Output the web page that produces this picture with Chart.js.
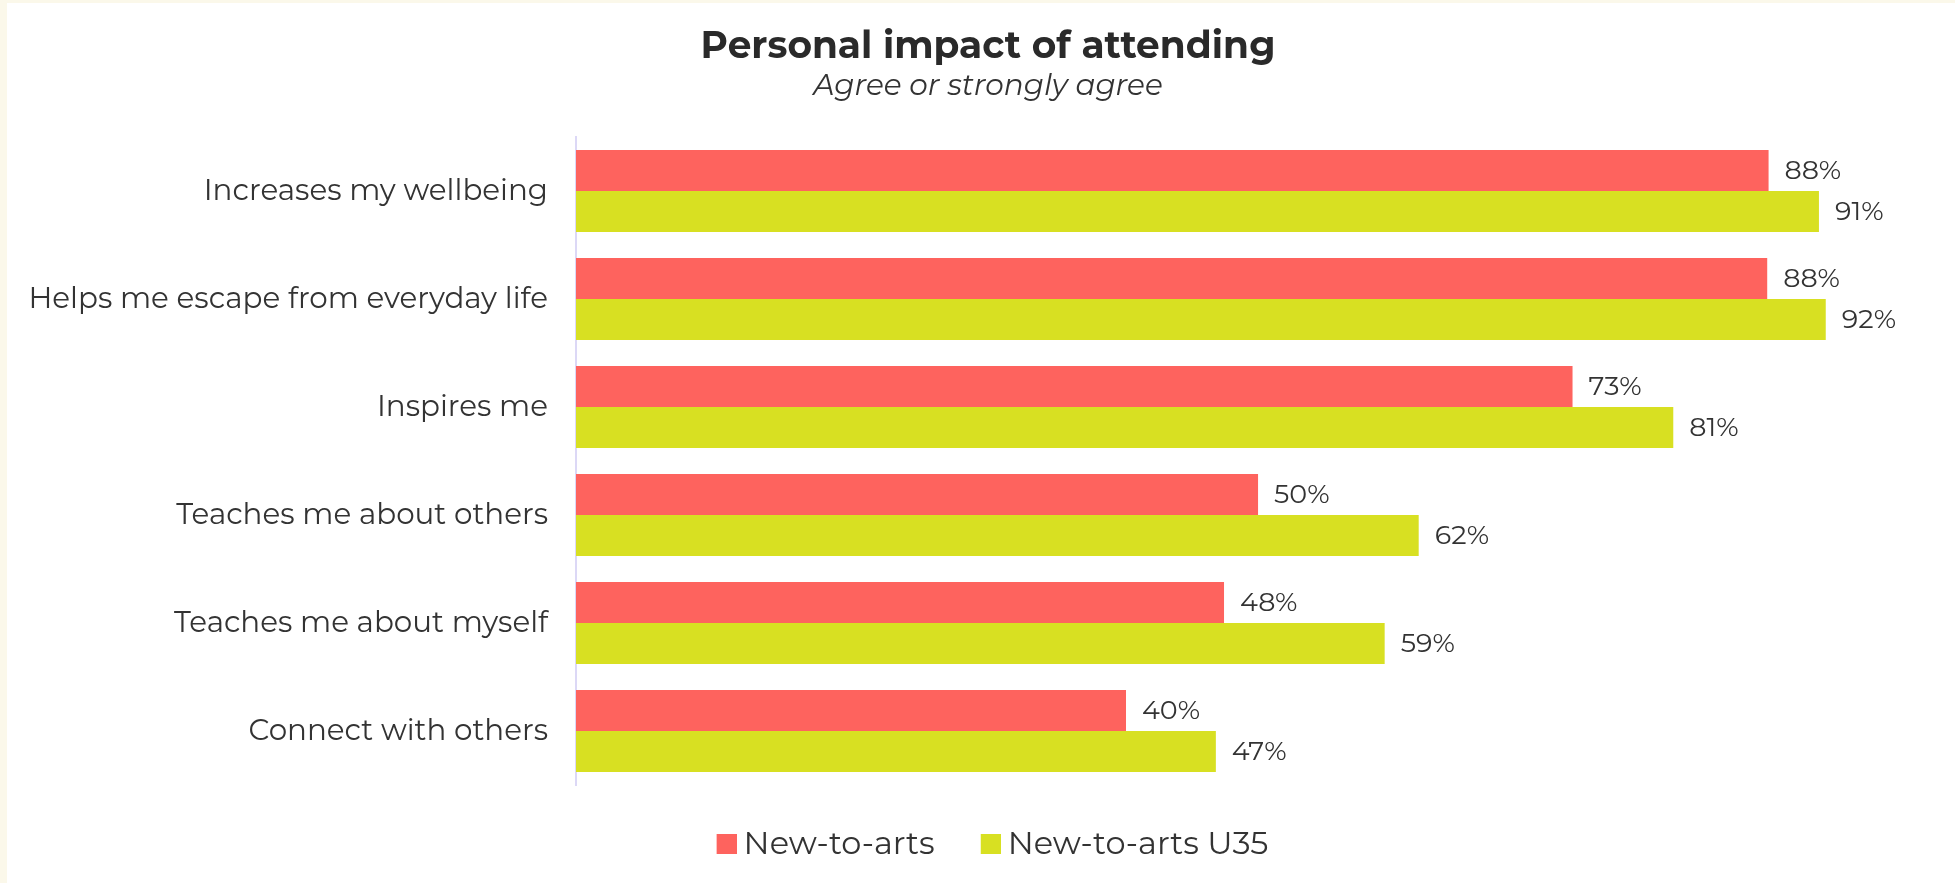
<!DOCTYPE html>
<html>
<head>
<meta charset="utf-8">
<script src="https://cdn.jsdelivr.net/npm/chart.js@4"></script>
<style>
  html, body { margin: 0; padding: 0; background: #fbf8ea; width: 1955px; height: 883px; overflow: hidden; }
  #wrap { position: absolute; left: 7px; top: 3px; width: 1948px; height: 880px; background: #ffffff; }
</style>
</head>
<body>
<div id="wrap"><canvas id="c" width="1948" height="880"></canvas></div>
<script>
const categories = [
  "Increases my wellbeing",
  "Helps me escape from everyday life",
  "Inspires me",
  "Teaches me about others",
  "Teaches me about myself",
  "Connect with others"
];
const newToArts = [87.6, 87.5, 73.2, 50.1, 47.6, 40.4];
const newToArtsU35 = [91.3, 91.8, 80.6, 61.9, 59.4, 47.0];
const seriesNames = ["New-to-arts", "New-to-arts U35"];
const seriesColors = ['#fe635e', '#d8e022'];
const titleText = "Personal impact of attending";
const subtitleText = "Agree or strongly agree";
const xMin = 0;
const xMax = 101;

const FONT = "'Montserrat', 'Lato', sans-serif";
const TEXT = "#333333";

// legend swatch: 20x20 square placed at the right part of a wider image,
// so the gap between swatch and text is small, like the original
function makeSwatch(color) {
  const c = document.createElement('canvas');
  c.width = 38; c.height = 20;
  const g = c.getContext('2d');
  g.fillStyle = color;
  g.fillRect(18, 0, 20, 20);
  return c;
}

const valueLabels = {
  id: 'valueLabels',
  afterDatasetsDraw(chart) {
    const ctx = chart.ctx;
    ctx.save();
    ctx.font = "400 27px " + FONT;
    ctx.fillStyle = TEXT;
    ctx.textAlign = 'left';
    ctx.textBaseline = 'middle';
    chart.data.datasets.forEach((ds, di) => {
      const meta = chart.getDatasetMeta(di);
      meta.data.forEach((bar, i) => {
        ctx.fillText(Math.round(ds.data[i]) + '%', bar.x + 16, bar.y + 1);
      });
    });
    ctx.restore();
  }
};

const PAD_LEFT = 18;

new Chart(document.getElementById('c'), {
  type: 'bar',
  data: {
    labels: categories,
    datasets: [
      { label: seriesNames[0], data: newToArts, backgroundColor: seriesColors[0], borderWidth: 0,
        categoryPercentage: 0.76, barPercentage: 1.0 },
      { label: seriesNames[1], data: newToArtsU35, backgroundColor: seriesColors[1], borderWidth: 0,
        categoryPercentage: 0.76, barPercentage: 1.0 }
    ]
  },
  options: {
    indexAxis: 'y',
    responsive: false,
    animation: false,
    layout: { padding: { left: PAD_LEFT, right: 4, top: 0, bottom: 12.8 } },
    scales: {
      x: { display: false, min: xMin, max: xMax },
      y: {
        grid: { display: false, drawTicks: false },
        border: { display: true, color: '#dcd8f6', width: 2 },
        ticks: { color: TEXT, padding: 28, font: { family: FONT, size: 29.4, weight: '400' } },
        afterFit(scale) { scale.width = 569 - PAD_LEFT; }
      }
    },
    plugins: {
      title: {
        display: true, text: titleText, color: '#2a2a2a',
        font: { family: FONT, size: 37.5, weight: 'bold' },
        padding: { top: 21, bottom: 0 }
      },
      subtitle: {
        display: true, text: subtitleText, color: TEXT,
        font: { family: FONT, size: 29.5, style: 'italic', weight: '400' },
        padding: { top: 0, bottom: 32.6 }
      },
      legend: {
        position: 'bottom',
        title: { display: true, text: '', font: { size: 1 }, padding: { top: 3, bottom: 2 } },
        labels: {
          color: TEXT, boxWidth: 20, boxHeight: 20, padding: 37, usePointStyle: true,
          font: { family: FONT, size: 32, weight: '400' },
          generateLabels(chart) {
            const items = Chart.defaults.plugins.legend.labels.generateLabels(chart);
            items.forEach((it, i) => { it.pointStyle = makeSwatch(seriesColors[i]); });
            return items;
          }
        }
      },
      tooltip: { enabled: false }
    }
  },
  plugins: [valueLabels]
});
</script>
</body>
</html>
